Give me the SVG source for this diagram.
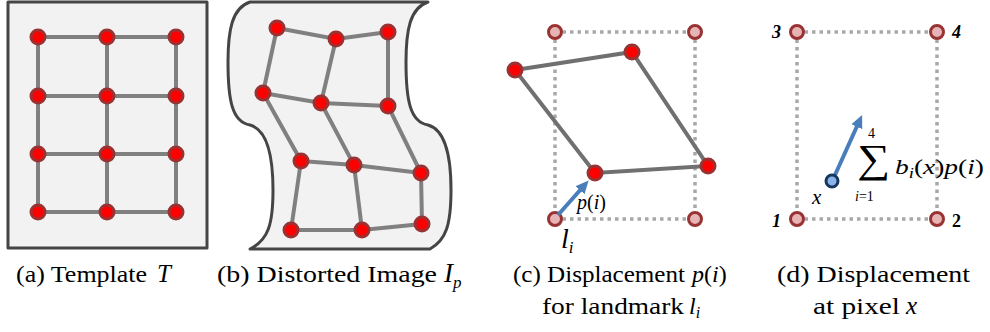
<svg xmlns="http://www.w3.org/2000/svg" width="990" height="332" viewBox="0 0 990 332">
<defs>
<style>
.frame{fill:#f2f2f2;stroke:#454545;stroke-width:3;stroke-linejoin:round}
.edge{stroke:#808080;stroke-width:4;fill:none;stroke-linecap:round}
.edge2{stroke:#707070;stroke-width:4;fill:none;stroke-linecap:round}
.node{fill:#ff0000;stroke:#993333;stroke-width:3}
.corner{fill:#e6b4b4;stroke:#993333;stroke-width:3}
.dot{stroke:#a8a8a8;stroke-width:3.5;fill:none;stroke-dasharray:3.5 4}
.arrow{stroke:#4a7ebb;stroke-width:4;fill:none}
text{font-family:'Liberation Serif','Times New Roman','DejaVu Serif',serif}
.cap{font-size:24px;fill:#000}
.math{font-style:italic;fill:#000}
.rm{font-style:normal;fill:#000}
.num{font-weight:bold;font-size:18px;fill:#000}
</style>
<marker id="ah" markerUnits="userSpaceOnUse" markerWidth="14" markerHeight="12" refX="3" refY="6" orient="auto">
<path d="M0,0 L13,6 L0,12 z" fill="#4a7ebb"/>
</marker>
</defs>

<!-- Panel a -->
<g id="panel-a">
<rect class="frame" x="8" y="2" width="199" height="246"/>
<g class="edge">
<line x1="38" y1="37" x2="176" y2="37"/>
<line x1="38" y1="96" x2="176" y2="96"/>
<line x1="38" y1="154" x2="176" y2="154"/>
<line x1="38" y1="212" x2="176" y2="212"/>
<line x1="38" y1="37" x2="38" y2="212"/>
<line x1="107" y1="37" x2="107" y2="212"/>
<line x1="176" y1="37" x2="176" y2="212"/>
</g>
<g class="node">
<circle cx="38" cy="37" r="7"/><circle cx="107" cy="37" r="7"/><circle cx="176" cy="37" r="7"/>
<circle cx="38" cy="96" r="7"/><circle cx="107" cy="96" r="7"/><circle cx="176" cy="96" r="7"/>
<circle cx="38" cy="154" r="7"/><circle cx="107" cy="154" r="7"/><circle cx="176" cy="154" r="7"/>
<circle cx="38" cy="212" r="7"/><circle cx="107" cy="212" r="7"/><circle cx="176" cy="212" r="7"/>
</g>
</g>

<!-- Panel b -->
<g id="panel-b">
<path class="frame" d="M250,2 L428,2 C410,8 406,30 406,62 C406,100 410,122 428,125 C446,130 451,160 451,190 C451,225 446,240 430,249 L250,249 C268,240 273,225 273,190 C273,160 268,130 250,125 C232,122 228,100 228,62 C228,30 232,8 250,2 Z"/>
<g class="edge">
<polyline points="277,28 336,39 388,32"/>
<polyline points="263,93 321,103 388,106"/>
<polyline points="301,161 354,165 421,173"/>
<polyline points="291,230 362,230 422,224"/>
<polyline points="277,28 263,93 301,161 291,230"/>
<polyline points="336,39 321,103 354,165 362,230"/>
<polyline points="388,32 388,106 421,173 422,224"/>
</g>
<g class="node">
<circle cx="277" cy="28" r="7"/><circle cx="336" cy="39" r="7"/><circle cx="388" cy="32" r="7"/>
<circle cx="263" cy="93" r="7"/><circle cx="321" cy="103" r="7"/><circle cx="388" cy="106" r="7"/>
<circle cx="301" cy="161" r="7"/><circle cx="354" cy="165" r="7"/><circle cx="421" cy="173" r="7"/>
<circle cx="291" cy="230" r="7"/><circle cx="362" cy="230" r="7"/><circle cx="422" cy="224" r="7"/>
</g>
</g>

<!-- Panel c -->
<g id="panel-c">
<g class="dot">
<line x1="555" y1="32" x2="695" y2="32"/>
<line x1="555" y1="219" x2="695" y2="219"/>
<line x1="555" y1="32" x2="555" y2="219"/>
<line x1="695" y1="32" x2="695" y2="219"/>
</g>
<polygon class="edge2" points="515,70 632,52 708,166 595,173"/>
<g class="corner">
<circle cx="555" cy="32" r="6.5"/><circle cx="695" cy="32" r="6.5"/>
<circle cx="555" cy="219" r="6.5"/><circle cx="695" cy="219" r="6.5"/>
</g>
<g class="node">
<circle cx="515" cy="70" r="7"/><circle cx="632" cy="52" r="7"/>
<circle cx="708" cy="166" r="7"/><circle cx="595" cy="173" r="7"/>
</g>
<line class="arrow" x1="558" y1="215" x2="582" y2="188" marker-end="url(#ah)"/>
<text x="577" y="209" font-size="20"><tspan class="math">p</tspan><tspan class="rm">(</tspan><tspan class="math">i</tspan><tspan class="rm">)</tspan></text>
<text x="561" y="248" class="math" font-size="28">l<tspan font-size="17" dy="5">i</tspan></text>
</g>

<!-- Panel d -->
<g id="panel-d">
<g class="dot">
<line x1="797" y1="32" x2="937" y2="32"/>
<line x1="797" y1="219" x2="937" y2="219"/>
<line x1="797" y1="32" x2="797" y2="219"/>
<line x1="937" y1="32" x2="937" y2="219"/>
</g>
<g class="corner">
<circle cx="797" cy="32" r="6.5"/><circle cx="937" cy="32" r="6.5"/>
<circle cx="797" cy="219" r="6.5"/><circle cx="937" cy="219" r="6.5"/>
</g>
<text class="num" x="772" y="38" font-style="italic">3</text>
<text class="num" x="952" y="38" font-style="italic">4</text>
<text class="num" x="772" y="227" font-style="italic">1</text>
<text class="num" x="952" y="227">2</text>
<line class="arrow" x1="835" y1="175" x2="858" y2="124" marker-end="url(#ah)"/>
<circle cx="832" cy="181" r="6" fill="#8ab4e8" stroke="#17375e" stroke-width="3"/>
<text x="812" y="204" class="math" font-size="21">x</text>
<text x="868" y="138" class="rm" font-size="14">4</text>
<text x="857" y="172" class="rm" font-size="40" textLength="33" lengthAdjust="spacingAndGlyphs">∑</text>
<text x="855" y="201" font-size="14"><tspan class="math">i</tspan><tspan class="rm">=1</tspan></text>
<text x="895" y="174" font-size="22" textLength="89" lengthAdjust="spacingAndGlyphs"><tspan class="math">b</tspan><tspan class="math" font-size="15" dy="4">i</tspan><tspan class="rm" dy="-4">(</tspan><tspan class="math">x</tspan><tspan class="rm">)</tspan><tspan class="math">p</tspan><tspan class="rm">(</tspan><tspan class="math">i</tspan><tspan class="rm">)</tspan></text>
</g>

<!-- Captions -->
<g id="captions">
<text class="cap" x="16" y="282" textLength="131" lengthAdjust="spacingAndGlyphs">(a) Template</text>
<text class="math" x="157" y="282" font-size="25">T</text>
<text class="cap" x="217" y="282" textLength="220" lengthAdjust="spacingAndGlyphs">(b) Distorted Image</text>
<text class="math" x="444" y="282" font-size="27">I<tspan font-size="17" dy="6">p</tspan></text>
<text class="cap" x="513" y="282" textLength="172" lengthAdjust="spacingAndGlyphs">(c) Displacement</text>
<text x="692" y="282" font-size="24"><tspan class="math">p</tspan><tspan class="rm">(</tspan><tspan class="math">i</tspan><tspan class="rm">)</tspan></text>
<text class="cap" x="542" y="314" textLength="142" lengthAdjust="spacingAndGlyphs">for landmark</text>
<text class="math" x="689" y="314" font-size="24">l<tspan font-size="16" dy="4">i</tspan></text>
<text class="cap" x="777" y="282" textLength="193" lengthAdjust="spacingAndGlyphs">(d) Displacement</text>
<text class="cap" x="813" y="314" textLength="87" lengthAdjust="spacingAndGlyphs">at pixel</text>
<text class="math" x="906" y="314" font-size="25">x</text>
</g>
</svg>
